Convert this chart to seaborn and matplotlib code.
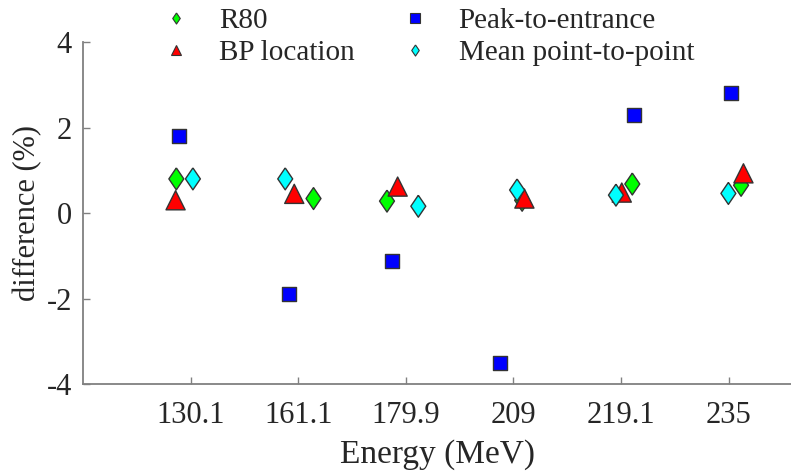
import numpy as np
import pandas as pd
import matplotlib
matplotlib.use("Agg")
import matplotlib.pyplot as plt
import seaborn as sns
from matplotlib.lines import Line2D

# ---- data ----
energies = ["130.1", "161.1", "179.9", "209", "219.1", "235"]
r80 = [0.80, 0.34, 0.28, 0.30, 0.68, 0.65]
bp_location = [0.30, 0.45, 0.62, 0.34, 0.48, 0.93]
peak_to_entrance = [1.80, -1.90, -1.12, -3.52, 2.29, 2.81]
mean_point_to_point = [0.80, 0.80, 0.16, 0.54, 0.42, 0.46]
series_names = ["R80", "BP location", "Peak-to-entrance", "Mean point-to-point"]

# horizontal jitter of each marker around its category (in category units)
jit_r80 = [-0.133, 0.142, -0.175, 0.081, 0.105, 0.116]
jit_bp = [-0.140, -0.037, -0.076, 0.102, 0.007, 0.138]
jit_peak = [-0.109, -0.084, -0.128, -0.124, 0.124, 0.023]
jit_mean = [0.021, -0.121, 0.116, 0.034, -0.047, -0.002]

# ---- styles ----
diamond = [(0, 1), (0.68, 0), (0, -1), (-0.68, 0), (0, 1)]
colors = {"R80": "#00ff00", "BP location": "#ff0000",
          "Peak-to-entrance": "#0000ff", "Mean point-to-point": "#00ffff"}
markers = {"R80": diamond, "BP location": "^",
           "Peak-to-entrance": "s", "Mean point-to-point": diamond}
sizes = {"R80": 250, "BP location": 190,
         "Peak-to-entrance": 100, "Mean point-to-point": 250}
legend_ms = {"R80": 8.0, "BP location": 6.5,
             "Peak-to-entrance": 6.5, "Mean point-to-point": 8.0}

values = [r80, bp_location, peak_to_entrance, mean_point_to_point]
jitters = [jit_r80, jit_bp, jit_peak, jit_mean]
rows = []
for name, vals, jit in zip(series_names, values, jitters):
    for i, (v, j) in enumerate(zip(vals, jit)):
        rows.append({"series": name, "energy": energies[i],
                     "x": i + 1 + j, "difference": v})
df = pd.DataFrame(rows)

sns.set_style("ticks")
plt.rcParams["font.family"] = ["Liberation Serif", "DejaVu Serif"]
plt.rcParams["axes.unicode_minus"] = False

fig = plt.figure(figsize=(7.91, 4.74), dpi=100)
ax = fig.add_axes([0.105, 0.19, 0.895, 0.721])

sns.scatterplot(data=df, x="x", y="difference", hue="series", style="series",
                size="series", palette=colors, markers=markers, sizes=sizes,
                edgecolor="#333333", linewidth=1.0, legend=False, ax=ax,
                zorder=3)

ax.set_xlim(0, 6.58)
ax.set_ylim(-4, 4)
ax.set_xticks(range(1, len(energies) + 1))
ax.set_xticklabels(energies)
ax.set_yticks([-4, -2, 0, 2, 4])
ax.set_yticklabels(["-4", "-2", "0", "2", "4"])

spine_col = "#808080"
for s in ["top", "right"]:
    ax.spines[s].set_visible(False)
for s in ["left", "bottom"]:
    ax.spines[s].set_color(spine_col)
    ax.spines[s].set_linewidth(1.3)
ax.tick_params(direction="in", length=5, width=1, color=spine_col,
               labelsize=22, labelcolor="#262626")
ax.tick_params(axis="x", pad=12)
ax.tick_params(axis="y", pad=8)

ax.set_xlabel("Energy (MeV)", fontsize=24, color="#262626", labelpad=7)
ax.set_ylabel("difference (%)", fontsize=22, color="#262626", labelpad=3)

handles = [Line2D([], [], linestyle="none", marker=markers[n],
                  markerfacecolor=colors[n], markeredgecolor="#333333",
                  markeredgewidth=0.8, markersize=legend_ms[n])
           for n in series_names]
fig.legend(handles, series_names, ncol=2, frameon=False, fontsize=21,
           loc="upper left", bbox_to_anchor=(0.185, 1.015), borderpad=0,
           handlelength=1.0, handletextpad=1.0, columnspacing=1.55,
           labelspacing=0.2, labelcolor="#262626")

fig.savefig("out.png", dpi=100)
